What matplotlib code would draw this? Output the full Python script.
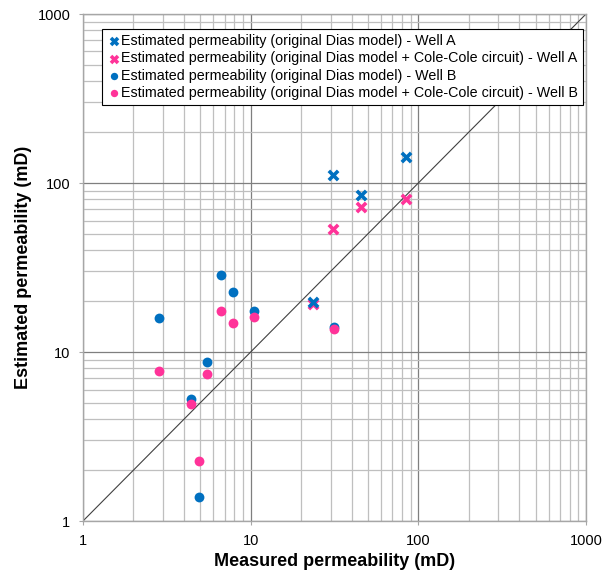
import matplotlib.pyplot as plt
from matplotlib.ticker import FixedLocator, FixedFormatter, LogLocator, NullFormatter

plt.rcParams['font.family'] = ['Liberation Sans', 'DejaVu Sans']

# Well A: estimated vs measured permeability (mD)
well_a_measured = [31.0, 45.5, 84.0, 23.5]
well_a_dias = [111.0, 85.0, 142.0, 19.8]
well_a_cole = [53.4, 72.0, 80.0, 19.2]

# Well B
well_b_measured = [2.84, 6.65, 7.84, 10.5, 31.3, 5.49, 4.4, 4.92]
well_b_dias = [15.9, 28.6, 22.6, 17.5, 14.1, 8.7, 5.27, 1.39]
well_b_cole = [7.7, 17.5, 14.8, 16.1, 13.7, 7.4, 4.92, 2.27]

ticks = [1, 10, 100, 1000]
tick_labels = ['1', '10', '100', '1000']

blue = '#0070C0'
pink = '#FF3399'

fig = plt.figure(figsize=(6.16, 5.74), dpi=100)
ax = fig.add_axes([0.1347, 0.0923, 0.8166, 0.8833])
ax.set_xscale('log')
ax.set_yscale('log')
ax.set_xlim(1, 1000)
ax.set_ylim(1, 1000)

# grid first, then the 1:1 line and points on top
ax.set_axisbelow(True)
for axis in (ax.xaxis, ax.yaxis):
    axis.set_major_locator(FixedLocator(ticks))
    axis.set_major_formatter(FixedFormatter(tick_labels))
    axis.set_minor_locator(LogLocator(base=10, subs=range(2, 10)))
    axis.set_minor_formatter(NullFormatter())
ax.grid(True, which='major', color='#7f7f7f', linewidth=0.9)
ax.grid(True, which='minor', color='#bfbfbf', linewidth=0.9)

ax.plot(ticks, ticks, color='#404040', linewidth=0.8, zorder=2)

ax.scatter(well_a_measured, well_a_dias, marker='x', s=45, linewidths=2.6,
           color=blue, zorder=4,
           label='Estimated permeability (original Dias model) - Well A')
ax.scatter(well_a_measured, well_a_cole, marker='x', s=45, linewidths=2.6,
           color=pink, zorder=3,
           label='Estimated permeability (original Dias model + Cole-Cole circuit) - Well A')
ax.scatter(well_b_measured, well_b_dias, marker='o', s=50, linewidths=0,
           color=blue, zorder=3,
           label='Estimated permeability (original Dias model) - Well B')
ax.scatter(well_b_measured, well_b_cole, marker='o', s=50, linewidths=0,
           color=pink, zorder=4,
           label='Estimated permeability (original Dias model + Cole-Cole circuit) - Well B')

for side in ax.spines.values():
    side.set_color('#a6a6a6')
    side.set_linewidth(1.0)
ax.tick_params(which='major', length=3, color='#a6a6a6', labelsize=10.5, pad=6)
ax.tick_params(which='minor', length=0)

ax.set_xlabel('Measured permeability (mD)', fontsize=13, fontweight='bold', labelpad=4)
ax.set_ylabel('Estimated permeability (mD)', fontsize=13, fontweight='bold', labelpad=4)

leg = ax.legend(loc='upper left', bbox_to_anchor=(0.038, 0.970), fontsize=10.3,
                frameon=True, fancybox=False, edgecolor='black', framealpha=1,
                handletextpad=0.0, handlelength=1.0, borderpad=0.35,
                labelspacing=0.22, borderaxespad=0.0, markerscale=0.75)
leg.get_frame().set_linewidth(0.8)

fig.savefig('out.png', dpi=100)
